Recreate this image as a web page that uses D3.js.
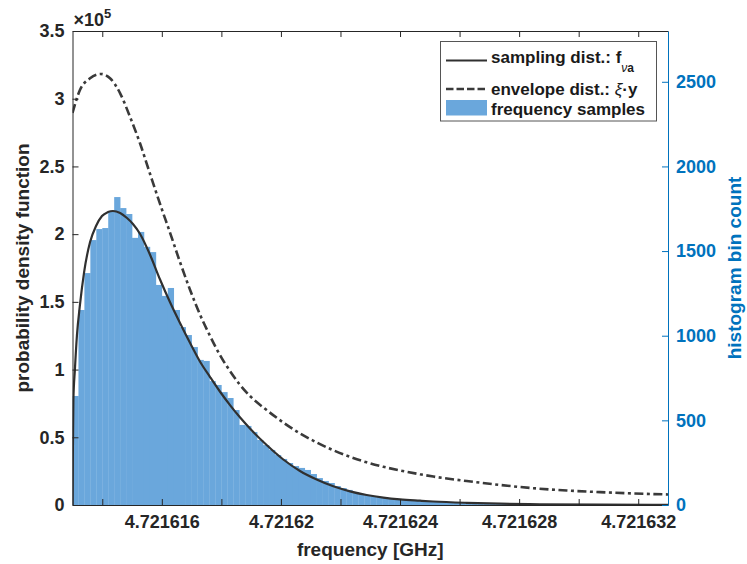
<!DOCTYPE html>
<html>
<head>
<meta charset="utf-8">
<script src="https://cdn.jsdelivr.net/npm/d3@7"></script>
<style>
  body { margin: 0; background: #ffffff; }
  svg text { font-family: "Liberation Sans", Arial, Helvetica, sans-serif; font-weight: bold; }
</style>
</head>
<body>
<svg id="chart" width="747" height="564"></svg>
<script>
// ---- data ----------------------------------------------------------------
// frequency axis (GHz)
const xDomain = [4.721613, 4.721633];
const xTickValues = [4.721614, 4.721616, 4.721618, 4.72162, 4.721622, 4.721624, 4.721626, 4.721628, 4.72163, 4.721632];
const xTickLabels = ["", "4.721616", "", "4.72162", "", "4.721624", "", "4.721628", "", "4.721632"];

// left axis: probability density function
const pdfDomain = [0, 350000];
const pdfTickValues = [0, 50000, 100000, 150000, 200000, 250000, 300000, 350000];
const pdfTickLabels = ["0", "0.5", "1", "1.5", "2", "2.5", "3", "3.5"];

// right axis: histogram bin count
const countDomain = [0, 2800];
const countTickValues = [0, 500, 1000, 1500, 2000, 2500];

// sampling distribution f_{νa}
const samplingFreq = [4.721613, 4.72161301, 4.72161303, 4.72161308, 4.72161315, 4.72161325, 4.72161339,
  4.72161359, 4.72161379, 4.72161399, 4.72161419, 4.72161436, 4.7216146, 4.72161483, 4.72161503,
  4.72161527, 4.7216156, 4.72161594, 4.72161628, 4.72161661, 4.72161695, 4.72161728, 4.72161762,
  4.72161795, 4.72161829, 4.72161863, 4.72161896, 4.72161952, 4.72162008, 4.72162064, 4.7216212,
  4.72162176, 4.72162232, 4.72162288, 4.72162344, 4.721624, 4.72162467, 4.72162511, 4.72162624,
  4.72162736, 4.7216287, 4.72163072, 4.721633];
const samplingPdf = [0, 33200, 77500, 99700, 125500, 147700, 172000,
  194200, 206000, 213400, 216300, 217100, 215600, 211900, 207500,
  200100, 185000, 166500, 149500, 134400, 119600, 106000, 94500,
  83800, 73800, 64600, 56500, 44300, 33600, 25100, 18800,
  13800, 10100, 7400, 5500, 4200, 3200, 2600, 1600,
  960, 520, 220, 70];

// envelope distribution ξ·y
const envelopeFreq = [4.721613, 4.72161325, 4.72161359, 4.72161395, 4.72161426, 4.7216146, 4.72161493,
  4.72161527, 4.7216156, 4.72161594, 4.72161628, 4.72161661, 4.72161695, 4.72161728, 4.72161762,
  4.72161795, 4.72161829, 4.72161863, 4.72161896, 4.72161952, 4.72162008, 4.72162064, 4.7216212,
  4.72162176, 4.72162232, 4.72162288, 4.72162344, 4.721624, 4.72162467, 4.72162512, 4.72162624,
  4.72162736, 4.72162848, 4.7216296, 4.72163072, 4.72163183, 4.721633];
const envelopePdf = [289500, 306400, 315100, 318300, 315100, 304000, 286700,
  266900, 244800, 222300, 200800, 179400, 158800, 140700, 124800,
  110800, 98900, 88600, 80500, 70100, 60900, 52800, 46200,
  40400, 35600, 31500, 28200, 25500, 22700, 21000, 17700,
  14800, 12400, 10700, 9500, 8500, 7800];

// histogram of frequency samples
const binStartGHz = 4.721613;
const binWidthGHz = 2e-7;
const binCounts = [
  644, 1152, 1370, 1565, 1630, 1636, 1731, 1819, 1754, 1719,
  1578, 1613, 1525, 1494, 1300, 1235, 1282, 1152, 1051, 1004,
  933, 857, 851, 732, 709, 667, 632, 561, 473, 467,
  431, 384, 354, 325, 295, 272, 248, 230, 219, 207,
  183, 159, 142, 130, 112, 100, 89, 77, 65, 59,
  53, 47, 44, 38, 35, 31, 29, 27, 25, 23,
  22, 20, 19, 18, 16, 15, 14, 13, 12, 10,
  9, 9, 8, 7, 7, 6, 5, 5, 4, 4,
  3, 3, 3, 2, 2, 2, 1, 2, 1, 1,
  1, 1, 0, 1, 1, 0, 1, 0, 0, 1];

// legend entries
const legendLabels = ["sampling dist.: f", "envelope dist.: ", "frequency samples"];

// ---- layout ----------------------------------------------------------------
const plot = { left: 72.5, right: 668, top: 31, bottom: 505 };
const axisGray = "#262626";
const axisBlue = "#0072BD";
const barBlue = "#6aa7dc";

const svg = d3.select("#chart");

const x = d3.scaleLinear().domain(xDomain).range([plot.left, plot.right]);
const yPdf = d3.scaleLinear().domain(pdfDomain).range([plot.bottom, plot.top]);
const yCount = d3.scaleLinear().domain(countDomain).range([plot.bottom, plot.top]);

svg.append("defs").append("clipPath").attr("id", "plotClip")
  .append("rect")
  .attr("x", plot.left).attr("y", plot.top)
  .attr("width", plot.right - plot.left).attr("height", plot.bottom - plot.top);

const area = svg.append("g").attr("clip-path", "url(#plotClip)");

// histogram bars (right axis)
const bins = binCounts.map((c, i) => ({
  x0: binStartGHz + i * binWidthGHz,
  x1: binStartGHz + (i + 1) * binWidthGHz,
  count: c
}));
area.append("g").selectAll("rect").data(bins).join("rect")
  .attr("x", d => x(d.x0))
  .attr("width", d => x(d.x1) - x(d.x0) + 0.3)
  .attr("y", d => yCount(d.count))
  .attr("height", d => yCount(0) - yCount(d.count))
  .attr("fill", barBlue);

// curves (left axis)
const line = d3.line()
  .x(d => x(d[0]))
  .y(d => yPdf(d[1]))
  .curve(d3.curveMonotoneX);

area.append("path")
  .datum(envelopeFreq.map((f, i) => [f, envelopePdf[i]]))
  .attr("d", line)
  .attr("fill", "none")
  .attr("stroke", "#3a3a3a")
  .attr("stroke-width", 2.6)
  .attr("stroke-dasharray", "9,3.5,3,3.5");

area.append("path")
  .datum(samplingFreq.map((f, i) => [f, samplingPdf[i]]))
  .attr("d", line)
  .attr("fill", "none")
  .attr("stroke", "#303030")
  .attr("stroke-width", 2.2);

// ---- axes ----------------------------------------------------------------
const tickFont = 18;

function styleAxis(g, color) {
  g.select(".domain").attr("stroke", color).attr("stroke-width", 1);
  g.selectAll(".tick line").attr("stroke", color).attr("stroke-width", 1);
  g.selectAll(".tick text").attr("fill", color).attr("font-size", tickFont)
    .attr("font-family", null);
}

const xAxis = d3.axisBottom(x)
  .tickValues(xTickValues)
  .tickFormat((d, i) => xTickLabels[i])
  .tickSizeInner(-6).tickSizeOuter(0).tickPadding(10);
svg.append("g").attr("transform", `translate(0,${plot.bottom})`).call(xAxis)
  .call(g => styleAxis(g, axisGray));

const xAxisTop = d3.axisTop(x)
  .tickValues(xTickValues)
  .tickFormat("")
  .tickSizeInner(-6).tickSizeOuter(0);
svg.append("g").attr("transform", `translate(0,${plot.top})`).call(xAxisTop)
  .call(g => styleAxis(g, axisGray));

const yAxisLeft = d3.axisLeft(yPdf)
  .tickValues(pdfTickValues)
  .tickFormat((d, i) => pdfTickLabels[i])
  .tickSizeInner(-6).tickSizeOuter(0).tickPadding(8);
svg.append("g").attr("transform", `translate(${plot.left},0)`).call(yAxisLeft)
  .call(g => styleAxis(g, axisGray));

const yAxisRight = d3.axisRight(yCount)
  .tickValues(countTickValues)
  .tickFormat(d3.format("d"))
  .tickSizeInner(-6).tickSizeOuter(0).tickPadding(8);
svg.append("g").attr("transform", `translate(${plot.right},0)`).call(yAxisRight)
  .call(g => styleAxis(g, axisBlue));

// exponent marker for the left axis
const expo = svg.append("text")
  .attr("x", plot.left + 1).attr("y", 26)
  .attr("font-size", 18).attr("fill", axisGray);
expo.append("tspan").text("\u00d710");
expo.append("tspan").attr("dy", -8).attr("font-size", 13).text("5");

// axis titles
svg.append("text")
  .attr("x", (plot.left + plot.right) / 2).attr("y", 556)
  .attr("text-anchor", "middle").attr("font-size", 19).attr("fill", axisGray)
  .text("frequency [GHz]");

svg.append("text")
  .attr("transform", `translate(29,${(plot.top + plot.bottom) / 2}) rotate(-90)`)
  .attr("text-anchor", "middle").attr("font-size", 19).attr("fill", axisGray)
  .text("probability density function");

svg.append("text")
  .attr("transform", `translate(741,${(plot.top + plot.bottom) / 2}) rotate(-90)`)
  .attr("text-anchor", "middle").attr("font-size", 19).attr("fill", axisBlue)
  .text("histogram bin count");

// ---- legend ----------------------------------------------------------------
const legend = svg.append("g");
legend.append("rect")
  .attr("x", 440.5).attr("y", 41.5).attr("width", 216).attr("height", 79.5)
  .attr("fill", "#ffffff").attr("stroke", "#555555").attr("stroke-width", 1);

const legFont = 17;
const textX = 491;

legend.append("line")
  .attr("x1", 446).attr("x2", 487).attr("y1", 60.5).attr("y2", 60.5)
  .attr("stroke", "#303030").attr("stroke-width", 2.2);
const t1 = legend.append("text").attr("x", textX).attr("y", 62.5)
  .attr("font-size", legFont).attr("fill", "#1a1a1a");
t1.append("tspan").text(legendLabels[0]);
t1.append("tspan").attr("dy", 9).attr("font-size", 12).attr("font-style", "italic")
  .attr("font-weight", "normal").text("\u03bd");
t1.append("tspan").attr("font-size", 12).text("a");

legend.append("line")
  .attr("x1", 446).attr("x2", 487).attr("y1", 89).attr("y2", 89)
  .attr("stroke", "#3a3a3a").attr("stroke-width", 2.6)
  .attr("stroke-dasharray", "7.5,3");
const t2 = legend.append("text").attr("x", textX).attr("y", 95)
  .attr("font-size", legFont).attr("fill", "#1a1a1a");
t2.append("tspan").text(legendLabels[1]);
t2.append("tspan").attr("font-style", "italic").attr("font-weight", "normal").text("\u03be");
t2.append("tspan").text("\u00b7y");

legend.append("rect")
  .attr("x", 446).attr("y", 100).attr("width", 41).attr("height", 15.5)
  .attr("fill", barBlue);
legend.append("text").attr("x", textX).attr("y", 114.5)
  .attr("font-size", legFont).attr("fill", "#1a1a1a")
  .text(legendLabels[2]);
</script>
</body>
</html>
